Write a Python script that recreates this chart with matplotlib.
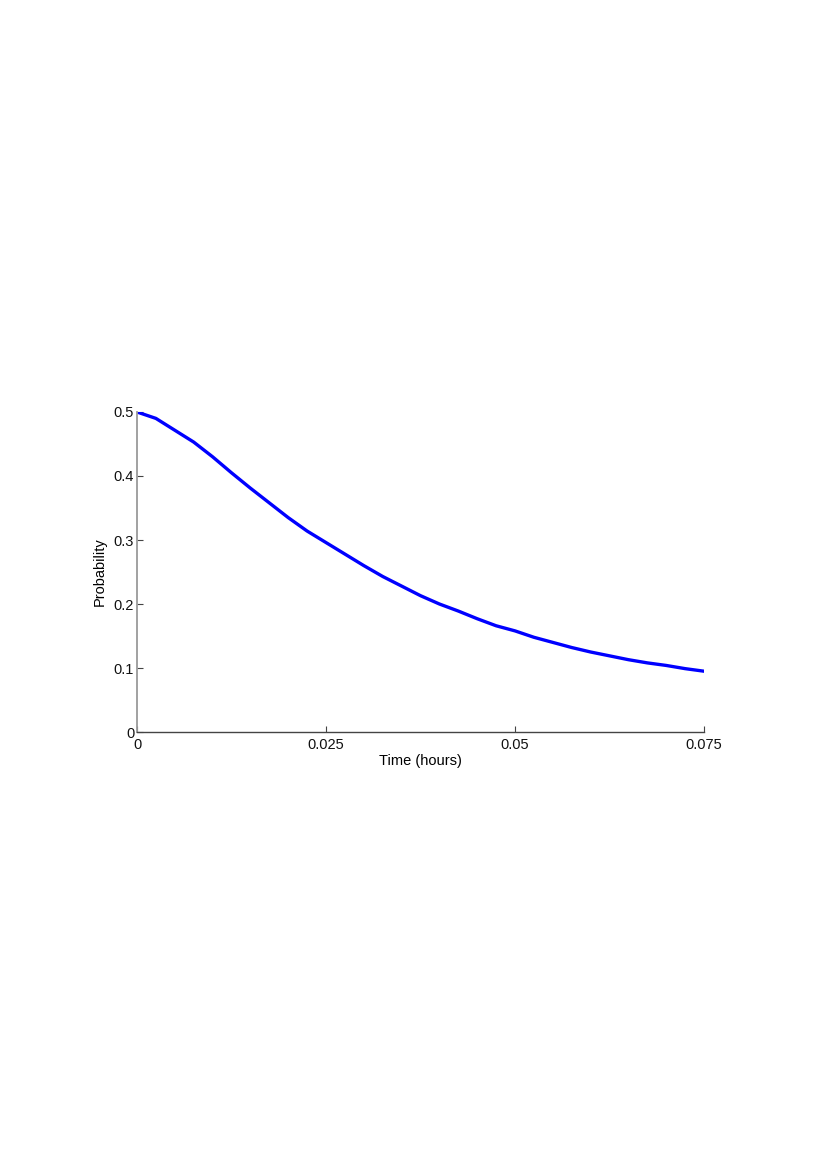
import numpy as np
import matplotlib
matplotlib.use("Agg")
import matplotlib.pyplot as plt

# probability curve
time_h = [0, 0.0025, 0.0075, 0.01, 0.0125, 0.015, 0.0175, 0.02, 0.0225, 0.025,
          0.0275, 0.03, 0.0325, 0.035, 0.0375, 0.04, 0.0425, 0.045, 0.0475, 0.05,
          0.0525, 0.055, 0.0575, 0.06, 0.0625, 0.065, 0.0675, 0.07, 0.0725, 0.075]
prob = [0.500, 0.490, 0.453, 0.430, 0.405, 0.381, 0.358, 0.335, 0.314, 0.296,
        0.278, 0.260, 0.243, 0.228, 0.213, 0.200, 0.189, 0.177, 0.166, 0.158,
        0.148, 0.140, 0.132, 0.125, 0.119, 0.113, 0.108, 0.104, 0.099, 0.095]

xticks = [0, 0.025, 0.05, 0.075]
xticklabels = ["0", "0.025", "0.05", "0.075"]
yticks = [0, 0.1, 0.2, 0.3, 0.4, 0.5]
yticklabels = ["0", "0.1", "0.2", "0.3", "0.4", "0.5"]

plt.rcParams['font.family'] = ['Liberation Sans', 'DejaVu Sans']

W, H = 817, 1157
fig = plt.figure(figsize=(W/100, H/100), dpi=100)
ax = fig.add_axes([137/W, (H-732)/H, 567/W, 320/H])

ax.plot(time_h, prob, color=(0, 0, 1), lw=2.4)

ax.set_xlim(0, 0.075)
ax.set_ylim(0, 0.5)
ax.set_xticks(xticks)
ax.set_xticklabels(xticklabels)
ax.set_yticks(yticks)
ax.set_yticklabels(yticklabels)

for s in ['top', 'right']:
    ax.spines[s].set_visible(False)
ax.spines['left'].set_color('#9a9a9a')
ax.spines['left'].set_linewidth(1.3)
ax.spines['bottom'].set_color('#444444')
ax.spines['bottom'].set_linewidth(1.0)

ax.tick_params(direction='in', length=4, labelsize=10.5, colors='#111111')
ax.tick_params(axis='x', pad=4, color='#444444')
ax.tick_params(axis='y', pad=2, color='#444444')

ax.set_xlabel("Time (hours)", fontsize=10.5, labelpad=2)
ax.set_ylabel("Probability", fontsize=10.5, labelpad=5)

fig.savefig("out.png", dpi=100)
